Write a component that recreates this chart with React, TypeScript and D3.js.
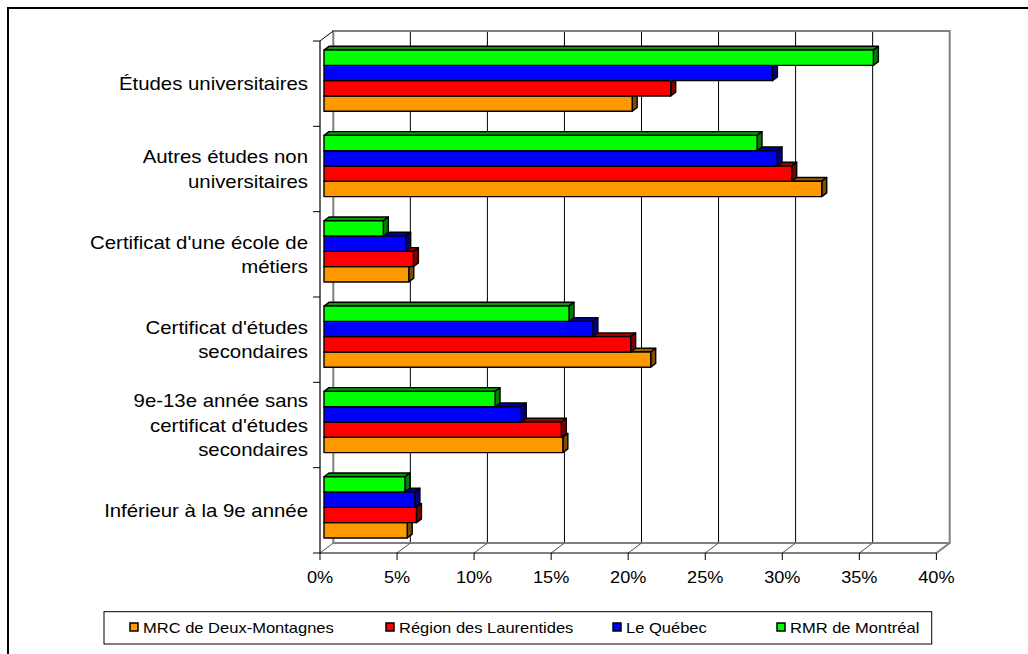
import React from "react";
import * as d3 from "d3";

const categories = [
  "Études universitaires",
  "Autres études non universitaires",
  "Certificat d'une école de métiers",
  "Certificat d'études secondaires",
  "9e-13e année sans certificat d'études secondaires",
  "Inférieur à la 9e année",
];
const categoryLines = [
  ["Études universitaires"],
  ["Autres études non", "universitaires"],
  ["Certificat d'une école de", "métiers"],
  ["Certificat d'études", "secondaires"],
  ["9e-13e année sans", "certificat d'études", "secondaires"],
  ["Inférieur à la 9e année"],
];
const seriesNames = ["MRC de Deux-Montagnes", "Région des Laurentides", "Le Québec", "RMR de Montréal"];
const seriesColors = ["#FF9900", "#FF0000", "#0000FF", "#00FF00"];
const mrc = [20.0, 32.3, 5.5, 21.2, 15.5, 5.4];
const region = [22.5, 30.35, 5.8, 19.9, 15.4, 6.0];
const quebec = [29.1, 29.4, 5.3, 17.45, 12.8, 5.9];
const rmr = [35.65, 28.1, 3.85, 15.9, 11.1, 5.25];
const seriesValues = [mrc, region, quebec, rmr];
const xTicks = [0, 5, 10, 15, 20, 25, 30, 35, 40];
const legendX = [130, 386, 613, 777];

const W = 1028;
const H = 654;
const DX = 13.3;
const DY = -10;
const FONT = "'Liberation Sans', Arial, sans-serif";

function shade(c: string, k: number) {
  const r = d3.rgb(c);
  return d3.rgb(r.r * k, r.g * k, r.b * k).formatHex();
}

function SText({ x, y, sx, size, anchor, children }: any) {
  return (
    <text
      transform={`translate(${x},${y}) scale(${sx},1)`}
      textAnchor={anchor}
      fontFamily={FONT}
      fontSize={size}
      fill="#000"
    >
      {children}
    </text>
  );
}

export default function App() {
  const x = d3.scaleLinear().domain([0, 40]).range([320, 936.4]);
  const y = d3.scaleBand<string>().domain(categories).range([41, 553]);
  const groupH = 61.2;
  // top-to-bottom order inside a group: RMR, Québec, Région, MRC
  const inner = d3.scaleBand<number>().domain([3, 2, 1, 0]).range([0, groupH]);
  const bh = inner.bandwidth();
  const f = { dx: 4, dy: -3 }; // front face depth offset
  const t = { dx: 5, dy: -3.75 }; // bar thickness offset

  const y0 = 553;
  const yTop = 41;

  const bars: any[] = [];
  categories.forEach((cat, ci) => {
    const gTop = (y(cat) as number) + (y.bandwidth() - groupH) / 2;
    [0, 1, 2, 3].forEach((si) => {
      const v = seriesValues[si][ci];
      const bx0 = x(0) + f.dx;
      const bx1 = x(v) + f.dx;
      const by0 = gTop + (inner(si) as number) + f.dy;
      const by1 = by0 + bh;
      const c = seriesColors[si];
      bars.push(
        <g key={`${ci}-${si}`} stroke="#000" strokeWidth={1.4} strokeLinejoin="round">
          <polygon
            points={`${bx0},${by0} ${bx0 + t.dx},${by0 + t.dy} ${bx1 + t.dx},${by0 + t.dy} ${bx1},${by0}`}
            fill={shade(c, 0.62)}
          />
          <polygon
            points={`${bx1},${by0} ${bx1 + t.dx},${by0 + t.dy} ${bx1 + t.dx},${by1 + t.dy} ${bx1},${by1}`}
            fill={shade(c, 0.5)}
          />
          <rect x={bx0} y={by0} width={bx1 - bx0} height={bh} fill={c} />
        </g>
      );
    });
  });

  return (
    <svg
      width={W}
      height={H}
      style={{ position: "absolute", left: 0, top: 0, background: "#fff" }}
    >
      <rect x={0} y={0} width={W} height={H} fill="#fff" />
      {/* outer frame */}
      <rect x={8} y={8} width={W + 20} height={H + 20} fill="none" stroke="#000" strokeWidth={2} />

      {/* back wall gridlines */}
      {xTicks.slice(1, -1).map((v) => (
        <line
          key={`g${v}`}
          x1={x(v) + DX}
          x2={x(v) + DX}
          y1={yTop + DY}
          y2={y0 + DY}
          stroke="#000"
          strokeWidth={1}
        />
      ))}
      {/* back wall outline */}
      <polyline
        points={`${x(0) + DX},${y0 + DY} ${x(0) + DX},${yTop + DY} ${x(40) + DX},${yTop + DY} ${x(40) + DX},${y0 + DY} ${x(0) + DX},${y0 + DY}`}
        fill="none"
        stroke="#808080"
        strokeWidth={2}
      />
      {/* floor diagonals */}
      {xTicks.map((v) => (
        <line
          key={`fd${v}`}
          x1={x(v)}
          y1={y0}
          x2={x(v) + DX}
          y2={y0 + DY}
          stroke={v === 40 ? "#808080" : "#505050"}
          strokeWidth={v === 40 ? 2 : 1}
        />
      ))}
      {/* left wall top edge */}
      <line x1={x(0)} y1={yTop} x2={x(0) + DX} y2={yTop + DY} stroke="#000" strokeWidth={1} />

      {/* axes */}
      <line x1={x(0)} x2={x(40)} y1={y0} y2={y0} stroke="#000" strokeWidth={1.2} />
      <line x1={x(0)} x2={x(0)} y1={yTop} y2={y0} stroke="#000" strokeWidth={1.2} />
      {xTicks.map((v) => (
        <line key={`xt${v}`} x1={x(v)} x2={x(v)} y1={y0} y2={y0 + 7} stroke="#000" strokeWidth={1} />
      ))}
      {d3.range(categories.length + 1).map((i) => {
        const yy = yTop + i * y.bandwidth();
        return <line key={`yt${i}`} x1={x(0) - 7} x2={x(0)} y1={yy} y2={yy} stroke="#000" strokeWidth={1} />;
      })}

      {bars}

      {/* x tick labels */}
      {xTicks.map((v) => (
        <SText key={`xl${v}`} x={x(v)} y={583} sx={1.1} size={16.5} anchor="middle">
          {`${v}%`}
        </SText>
      ))}
      {/* category labels */}
      {categories.map((cat, ci) => {
        const lines = categoryLines[ci];
        const cy = (y(cat) as number) + y.bandwidth() / 2;
        const lh = 24.5;
        return lines.map((ln, li) => (
          <SText
            key={`cl${ci}-${li}`}
            x={308}
            y={cy + (li - (lines.length - 1) / 2) * lh + 6.5}
            sx={1.165}
            size={17.5}
            anchor="end"
          >
            {ln}
          </SText>
        ));
      })}

      {/* legend */}
      <rect x={104} y={611.7} width={827.7} height={32.3} fill="#fff" stroke="#000" strokeWidth={1} />
      {seriesNames.map((nm, i) => (
        <g key={`lg${i}`}>
          <rect x={legendX[i]} y={623} width={8} height={8} fill={seriesColors[i]} stroke="#000" strokeWidth={1.5} />
          <SText x={legendX[i] + 13} y={632.5} sx={1.18} size={14} anchor="start">
            {nm}
          </SText>
        </g>
      ))}
    </svg>
  );
}
